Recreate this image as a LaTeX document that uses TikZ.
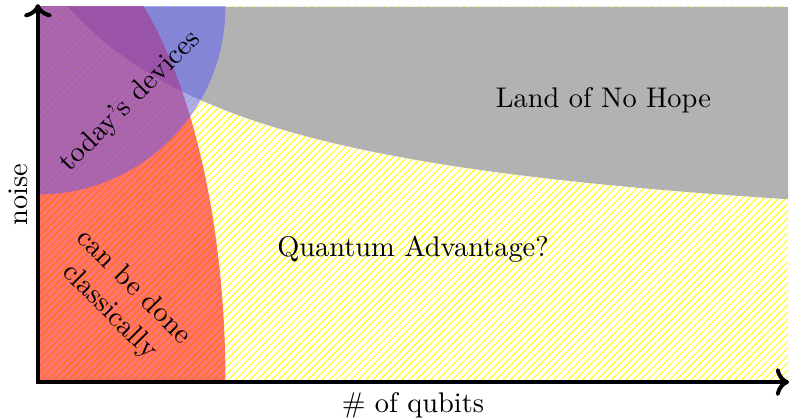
\documentclass[tikz,border=0pt]{standalone}
\usepackage{amsmath}
\usepackage{xcolor}
\usepackage{tikz}
\usetikzlibrary{arrows.meta, patterns.meta, positioning}

\begin{document}
\begin{tikzpicture}[
  x=1.16cm, y=1.16cm,
  every node/.style={font=\normalsize},
  axis/.style={<->, line width=1.4pt},
  hatch/.style={pattern={Lines[angle=45, distance=1.8pt, line width=0.35pt]}, pattern color=yellow},
  hopeless/.style={fill=black!30},
  classical/.style={fill=red, fill opacity=0.55},
  devices/.style={fill=blue!65, fill opacity=0.5},
  lbl/.style={align=center, inner sep=1pt}
]
  \useasboundingbox (-0.404,-0.404) rectangle (8.02,4.074);
  \coordinate (origin) at (0,0);
  \coordinate (xend) at (8.01,0);
  \coordinate (yend) at (0,4.03);

  % regions
  \fill[hatch] (0,0) rectangle (8,4);
  \fill[hopeless] (0.32,4) -- plot[domain=0.32:8, samples=60] (\x,{1.3+6.57/(\x+2.113)}) -- (8,4) -- cycle;
  \begin{scope}
    \clip (0,0) rectangle (8,4);
    \fill[classical] (0,0) ellipse [x radius=2, y radius=4.85];
    \fill[devices] (0,4) circle [radius=2];
  \end{scope}

  % labels
  \node[lbl] (hope) at (6.03,3.0) {Land of No Hope};
  \node[lbl] (advantage) at (4.0,1.42) {Quantum Advantage?};
  \node[lbl, rotate=45] (today) at (0.99,2.99) {today's devices};
  \node[lbl, rotate=-45] (classic) at (0.89,0.88) {can be done\\classically};

  % axes
  \draw[axis] (yend) -- (origin) -- (xend);
  \node[below] (xlabel) at (4,0) {\# of qubits};
  \node[above, rotate=90] (ylabel) at (0,2) {noise};
\end{tikzpicture}
\end{document}
